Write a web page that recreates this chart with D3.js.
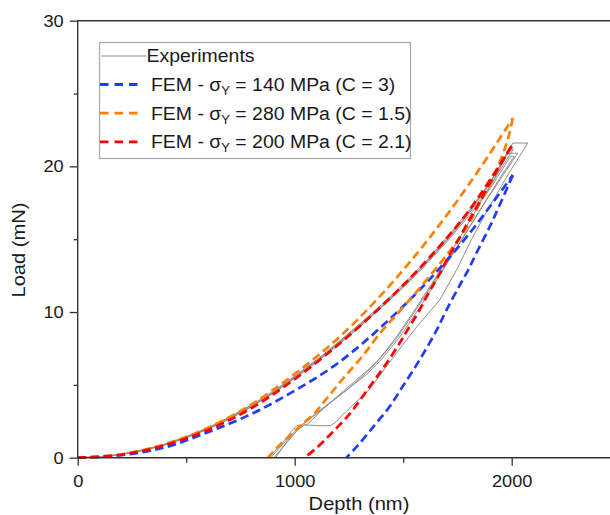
<!DOCTYPE html>
<html>
<head>
<meta charset="utf-8">
<script src="https://cdn.jsdelivr.net/npm/d3@7"></script>
<style>
  html, body { margin: 0; padding: 0; background: #fff; }
  svg { display: block; font-family: "Liberation Sans", Arial, sans-serif; }
</style>
</head>
<body>
<svg id="chart" width="610" height="515"></svg>
<script>
const X_TICKS = [0, 1000, 2000];
const X_MINOR = [500, 1500, 2500];
const Y_TICKS = [0, 10, 20, 30];
const Y_MINOR = [5, 15, 25];

// experiments: [depth nm, load mN] — loading, hold, unloading
const EXP_1 = [[0,0],[100,0.06],[200,0.23],[300,0.52],[400,0.9],[500,1.42],[600,2.02],[700,2.75],
  [800,3.58],[900,4.5],[1000,5.55],[1100,6.65],[1200,7.85],[1300,9.1],[1400,10.4],[1500,11.8],
  [1600,13.3],[1700,15.0],[1800,16.8],[1900,18.8],[2005,21.6],[2074,21.6],
  [1990,19.6],[1900,17.3],[1815,15.0],[1750,13.0],[1667,10.8],[1580,9.3],[1500,7.8],[1420,6.2],
  [1345,4.7],[1260,3.5],[1185,2.4],[1165,2.2],[1110,2.2],[1045,2.25],[1025,2.1],[985,1.4],
  [945,0.7],[912,0]];
const EXP_2 = [[0,0],[100,0.05],[200,0.22],[300,0.5],[400,0.88],[500,1.38],[600,1.98],[700,2.7],
  [800,3.52],[900,4.45],[1000,5.5],[1100,6.6],[1200,7.8],[1300,9.05],[1400,10.35],[1500,11.75],
  [1600,13.25],[1700,14.9],[1800,16.7],[1900,18.6],[1982,20.9],[2028,20.9],
  [1960,19.4],[1880,17.6],[1780,15.2],[1680,12.8],[1580,10.4],[1480,8.2],[1391,6.6],[1330,5.7],
  [1253,4.8],[1176,3.9],[1100,3.0],[1060,2.55],[1023,2.15],[1000,1.8],[962,1.2],[925,0.6],[890,0]];
const EXP_3 = [[0,0],[100,0.07],[200,0.25],[300,0.54],[400,0.93],[500,1.45],[600,2.06],[700,2.8],
  [800,3.62],[900,4.55],[1000,5.6],[1100,6.72],[1200,7.92],[1300,9.2],[1400,10.5],[1500,11.9],
  [1600,13.4],[1700,15.1],[1800,16.9],[1900,18.9],[1990,21.2],[2008,21.2],
  [1940,19.6],[1860,17.6],[1760,15.1],[1660,12.6],[1560,10.3],[1460,8.1],[1380,6.6],[1310,5.55],
  [1240,4.65],[1160,3.75],[1090,2.95],[1050,2.45],[1035,2.25],[1010,2.2],[985,1.8],[950,1.15],
  [915,0.55],[878,0]];
const EXP_4 = [[0,0],[100,0.05],[200,0.21],[300,0.48],[400,0.86],[500,1.35],[600,1.95],[700,2.66],
  [800,3.48],[900,4.4],[1000,5.45],[1100,6.55],[1200,7.72],[1300,8.98],[1400,10.3],[1500,11.68],
  [1600,13.18],[1700,14.8],[1800,16.55],[1900,18.45],[1995,20.7],[2012,20.7],
  [1950,19.3],[1870,17.4],[1770,15.0],[1670,12.7],[1570,10.4],[1470,8.2],[1390,6.75],[1320,5.8],
  [1250,4.9],[1180,4.0],[1120,3.2],[1080,2.6],[1060,2.3],[1040,2.2],[1010,1.85],[975,1.3],
  [940,0.65],[905,0]];

// FEM fits: loading and unloading branches
const BLUE_LOAD = [[0,0],[200,0.17],[400,0.7],[600,1.75],[800,3.0],[1000,4.6],[1200,6.5],
  [1400,9.0],[1600,11.9],[1800,15.3],[2005,19.4]];
const BLUE_UNLOAD = [[2005,19.4],[1943,17.3],[1900,15.9],[1836,14.0],[1800,12.9],[1759,11.8],
  [1698,10.1],[1652,8.7],[1575,6.7],[1498,4.9],[1437,3.5],[1383,2.5],[1345,1.8],[1300,1.0],
  [1270,0.5],[1238,0]];
const ORANGE_LOAD = [[0,0],[200,0.23],[400,0.92],[600,2.05],[800,3.65],[1000,5.75],[1200,8.2],
  [1400,11.2],[1600,14.7],[1800,18.7],[2005,23.3]];
const ORANGE_UNLOAD = [[2005,23.3],[1985,22.0],[1950,20.5],[1905,18.9],[1850,17.4],[1800,16.0],
  [1725,14.4],[1635,12.7],[1545,11.1],[1468,9.8],[1391,8.5],[1314,7.0],[1253,5.95],[1207,5.15],
  [1169,4.45],[1130,3.75],[1092,3.05],[1038,2.35],[992,1.7],[939,1.0],[877,0]];
const RED_LOAD = [[0,0],[200,0.2],[400,0.85],[600,1.9],[800,3.4],[1000,5.4],[1200,7.75],
  [1400,10.4],[1600,13.4],[1800,16.9],[2000,21.4]];
const RED_UNLOAD = [[2000,21.4],[1943,20.0],[1897,18.8],[1850,17.5],[1800,16.2],[1752,14.9],
  [1698,13.5],[1667,12.6],[1636,11.8],[1606,11.0],[1568,9.95],[1521,8.8],[1483,7.85],[1422,6.45],
  [1376,5.5],[1330,4.55],[1291,3.75],[1253,3.0],[1207,2.25],[1161,1.55],[1107,0.75],[1045,0]];

const EXPERIMENTS = [EXP_1, EXP_2, EXP_3, EXP_4];
const FEM = [
  {sy: "140", c: "3",   color: "#1f3dff", load: BLUE_LOAD,   unload: BLUE_UNLOAD},
  {sy: "280", c: "1.5", color: "#ff8000", load: ORANGE_LOAD, unload: ORANGE_UNLOAD},
  {sy: "200", c: "2.1", color: "#ff0000", load: RED_LOAD,    unload: RED_UNLOAD},
];

const W = 610, H = 515;
const GRAY = "#8f8f8f", AXIS = "#333", INK = "#1a1a1a";
const svg = d3.select("#chart");
const x = d3.scaleLinear([0, 2500], [77.7, 620.2]);
const y = d3.scaleLinear([0, 30], [457.7, 20.7]);

// the source figure's type runs a little wide: stretch glyphs horizontally
function widen(sel, k) {
  sel.each(function () {
    const n = this.getComputedTextLength();
    d3.select(this).attr("textLength", n * k).attr("lengthAdjust", "spacingAndGlyphs");
  });
}

// data first, frame on top
const plot = svg.append("g");
const line = d3.line().x(d => x(d[0])).y(d => y(d[1]));
const smooth = d3.line().x(d => x(d[0])).y(d => y(d[1])).curve(d3.curveCatmullRom.alpha(0.5));

plot.selectAll("path.exp").data(EXPERIMENTS).join("path").attr("class", "exp")
  .attr("d", line).attr("fill", "none").attr("stroke", GRAY).attr("stroke-width", 1);

for (const f of FEM) {
  plot.selectAll(null).data([f.load, f.unload]).join("path")
    .attr("d", smooth).attr("fill", "none").attr("stroke", f.color)
    .attr("stroke-width", 2.7).attr("stroke-dasharray", "8.5,4.5");
}

// axes
const xAxis = svg.append("g").attr("transform", `translate(0,${y(0)})`)
  .call(d3.axisBottom(x).tickValues(X_TICKS).tickSize(8).tickPadding(9).tickFormat(d3.format("d")));
const xMinor = svg.append("g").attr("transform", `translate(0,${y(0)})`)
  .call(d3.axisBottom(x).tickValues(X_MINOR).tickSize(5).tickFormat(""));
const yAxis = svg.append("g").attr("transform", `translate(${x(0)},0)`)
  .call(d3.axisLeft(y).tickValues(Y_TICKS).tickSize(8).tickPadding(6).tickFormat(d3.format("d")));
const yMinor = svg.append("g").attr("transform", `translate(${x(0)},0)`)
  .call(d3.axisLeft(y).tickValues(Y_MINOR).tickSize(4).tickFormat(""));
for (const g of [xAxis, xMinor, yAxis, yMinor]) {
  g.select(".domain").remove();
  g.selectAll("line").attr("stroke", AXIS).attr("stroke-width", 1.3);
  g.selectAll("text").attr("fill", INK).style("font-size", "17px");
}
widen(xAxis.selectAll("text"), 1.07);
widen(yAxis.selectAll("text"), 1.07);
svg.append("path").attr("fill", "none").attr("stroke", AXIS).attr("stroke-width", 1.4)
  .attr("d", `M${W},${y(30)}H${x(0)}V${y(0)}H${W}`);

const titles = svg.append("g").attr("fill", INK).style("font-size", "19px");
titles.append("text").attr("x", 359).attr("y", 510).attr("text-anchor", "middle").text("Depth (nm)");
titles.append("text").attr("transform", "translate(25,250) rotate(-90)")
  .attr("text-anchor", "middle").text("Load (mN)");
widen(titles.selectAll("text"), 1.06);

// legend
const lg = svg.append("g");
lg.append("rect").attr("x", 99.5).attr("y", 42.5).attr("width", 311).attr("height", 116)
  .attr("fill", "#fff").attr("stroke", "#a9a9a9").attr("stroke-width", 1.2);
lg.append("line").attr("x1", 101).attr("x2", 146).attr("y1", 56).attr("y2", 56)
  .attr("stroke", GRAY).attr("stroke-width", 1);
const lt = [];
lt.push(lg.append("text").attr("x", 146.5).attr("y", 56).attr("dy", "0.36em").attr("fill", INK)
  .style("font-size", "18px").text("Experiments"));
FEM.forEach((f, i) => {
  const ry = 84.5 + i * 28.7;
  lg.append("line").attr("x1", 100).attr("x2", 139).attr("y1", ry).attr("y2", ry)
    .attr("stroke", f.color).attr("stroke-width", 2.8).attr("stroke-dasharray", "8.5,6");
  const t = lg.append("text").attr("x", 151).attr("y", ry).attr("dy", "0.36em")
    .attr("fill", INK).style("font-size", "18px");
  t.append("tspan").text("FEM - σ");
  t.append("tspan").attr("dy", "4").style("font-size", "12px").text("Y");
  t.append("tspan").attr("dy", "-4").text(` = ${f.sy} MPa (C = ${f.c})`);
  lt.push(t);
});
lt.forEach(t => widen(t, 1.08));
</script>
</body>
</html>
